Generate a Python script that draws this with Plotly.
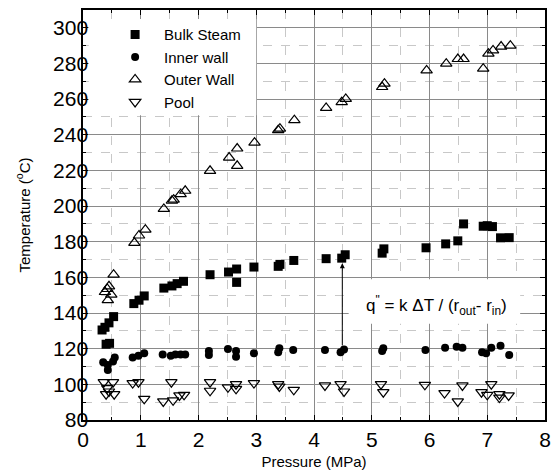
import plotly.graph_objects as go

# ---- data ----
bulk_x = [0.33, 0.38, 0.45, 0.53, 0.40, 0.46, 0.88, 0.97, 1.06, 1.40, 1.54, 1.63, 1.74,
          2.20, 2.52, 2.66, 2.66, 2.96, 3.38, 3.41, 3.65, 4.21, 4.48, 4.54, 5.18, 5.21,
          5.94, 6.28, 6.49, 6.59, 6.93, 7.00, 7.09, 7.23, 7.38]
bulk_y = [130.5, 132.0, 134.5, 138.0, 122.5, 123.0, 145.3, 147.2, 149.6, 154.0, 155.2, 156.5, 157.8,
          161.5, 163.0, 164.7, 157.2, 165.8, 166.2, 167.3, 169.5, 170.5, 170.8, 172.7, 173.6, 176.0,
          176.6, 178.8, 180.5, 190.0, 188.7, 189.0, 188.5, 182.2, 182.3]

inner_x = [0.35, 0.43, 0.43, 0.52, 0.55, 0.86, 0.96, 1.06, 1.38, 1.52, 1.60, 1.69, 1.77,
           2.18, 2.18, 2.51, 2.65, 2.65, 2.96, 3.38, 3.40, 3.64, 4.19, 4.46, 4.52, 5.18,
           5.20, 5.93, 6.27, 6.47, 6.57, 6.91, 6.98, 7.07, 7.23, 7.38]
inner_y = [112.4, 110.9, 108.1, 112.8, 115.0, 115.0, 116.1, 117.4, 116.8, 116.1, 116.8, 116.8, 116.8,
           118.7, 116.5, 119.8, 118.7, 115.5, 117.4, 118.0, 120.2, 119.3, 119.3, 118.0, 119.6, 118.7,
           120.2, 119.3, 120.6, 121.1, 120.6, 118.0, 117.4, 120.6, 121.7, 116.5]

outer_x = [0.53, 0.45, 0.42, 0.38, 0.49, 0.43, 0.89, 0.97, 1.08, 1.40, 1.54, 1.57, 1.69, 1.77,
           2.20, 2.53, 2.67, 2.67, 2.97, 3.38, 3.41, 3.66, 4.21, 4.48, 4.55, 5.18, 5.22,
           5.95, 6.29, 6.49, 6.59, 6.93, 7.02, 7.10, 7.24, 7.40]
outer_y = [161.5, 155.0, 153.5, 151.8, 150.3, 147.2, 179.4, 183.5, 186.8, 198.4, 203.0, 203.6, 206.7, 208.6,
           219.8, 227.2, 232.3, 222.6, 235.6, 242.6, 243.4, 248.2, 255.1, 258.3, 260.1, 266.8, 268.7,
           276.1, 279.9, 282.5, 282.5, 277.1, 285.5, 287.3, 289.5, 290.0]

pool_x = [0.36, 0.52, 0.42, 0.40, 0.54, 0.45, 0.86, 0.96, 1.06, 1.53, 1.39, 1.56, 1.67, 1.75,
          2.20, 2.20, 2.51, 2.65, 2.65, 2.96, 3.38, 3.40, 3.65, 4.19, 4.46, 4.52, 5.16, 5.20,
          5.92, 6.26, 6.49, 6.57, 6.90, 7.00, 7.07, 7.21, 7.21, 7.37]
pool_y = [101.2, 101.2, 97.9, 94.5, 94.5, 96.0, 100.7, 101.2, 91.9, 101.2, 90.4, 91.0, 93.8, 94.1,
          101.2, 96.4, 98.3, 100.1, 97.5, 100.7, 100.1, 98.8, 96.9, 99.4, 100.1, 96.0, 100.1, 95.6,
          99.7, 95.1, 90.4, 99.4, 95.6, 94.1, 100.1, 94.5, 92.6, 93.8]

series_names = ["Bulk Steam", "Inner wall", "Outer Wall", "Pool"]
x_range = [0, 8]
y_range = [80, 310]

FONT = "Liberation Sans, Arial, sans-serif"

fig = go.Figure()
fig.add_trace(go.Scatter(x=bulk_x, y=bulk_y, mode="markers", name=series_names[0],
                         marker=dict(symbol="square", size=9, color="black")))
fig.add_trace(go.Scatter(x=inner_x, y=inner_y, mode="markers", name=series_names[1],
                         marker=dict(symbol="circle", size=8, color="black")))
fig.add_trace(go.Scatter(x=outer_x, y=outer_y, mode="markers", name=series_names[2],
                         marker=dict(symbol="triangle-up-open", size=10, color="black",
                                     line=dict(width=1.2, color="black"))))
# Pool is plotted on the label axis y2 (identical range to y)
fig.add_trace(go.Scatter(x=pool_x, y=pool_y, mode="markers", name=series_names[3], yaxis="y2",
                         marker=dict(symbol="triangle-down-open", size=10, color="black",
                                     line=dict(width=1.2, color="black"))))

# white boxes covering the grid (legend & equation)
fig.add_shape(type="rect", xref="x", yref="y", x0=0.1, x1=3.0, y0=251, y1=305,
              fillcolor="white", line=dict(width=0), layer="between")
fig.add_shape(type="rect", xref="x", yref="y", x0=4.6, x1=7.57, y0=134, y1=159,
              fillcolor="white", line=dict(width=0), layer="between")

# arrow
fig.add_annotation(x=4.49, y=168, ax=4.49, ay=121, xref="x", yref="y", axref="x", ayref="y",
                   showarrow=True, arrowhead=2, arrowsize=1, arrowwidth=1, arrowcolor="black", text="")
fig.add_annotation(x=6.12, y=144, xref="x", yref="y", showarrow=False,
                   text="q<sup>\"</sup> = k ΔT / (r<sub>out</sub>- r<sub>in</sub>)",
                   font=dict(size=17, family=FONT, color="black"))

axis_common = dict(showline=True, linecolor="black", linewidth=2, mirror="ticks",
                   ticks="inside", ticklen=5, tickcolor="black", tickwidth=1,
                   showgrid=True, gridcolor="#8a8a8a", gridwidth=1, zeroline=False,
                   tickfont=dict(size=21, family=FONT, color="black"))

fig.update_xaxes(range=x_range, dtick=1, tick0=0,
                 title=dict(text="Pressure (MPa)", font=dict(size=15, family=FONT, color="black"), standoff=6),
                 minor=dict(dtick=0.5, showgrid=True, gridcolor="#c8c8c8", griddash="dash",
                            ticks="inside", ticklen=3, tickcolor="black"),
                 **axis_common)
fig.update_yaxes(selector=dict(), range=y_range)
fig.update_layout(yaxis=dict(range=y_range, dtick=20, tick0=80, showticklabels=False,
                             title=dict(text="Temperature (<sup>o</sup>C)",
                                        font=dict(size=15, family=FONT, color="black"), standoff=47),
                             minor=dict(dtick=10, showgrid=True, gridcolor="#c8c8c8", griddash="dash",
                                        ticks="inside", ticklen=3, tickcolor="black"),
                             **axis_common))

fig.update_layout(
    width=558, height=475,
    margin=dict(l=83, r=7, t=10, b=53),
    plot_bgcolor="white", paper_bgcolor="white",
    font=dict(family=FONT, color="black"),
    # label-only axis sitting a few px right of the frame so the tick labels hug the frame
    yaxis2=dict(overlaying="y", anchor="free", position=0.011, side="left",
                range=y_range, dtick=20, tick0=80, showline=False, ticks="",
                showgrid=False, zeroline=False,
                tickfont=dict(size=21, family=FONT, color="black")),
    legend=dict(x=0.05, y=0.98, xanchor="left", yanchor="top", bgcolor="rgba(0,0,0,0)",
                font=dict(size=15, family=FONT, color="black"), itemwidth=48, tracegroupgap=0),
)

fig.write_html("out.html")
